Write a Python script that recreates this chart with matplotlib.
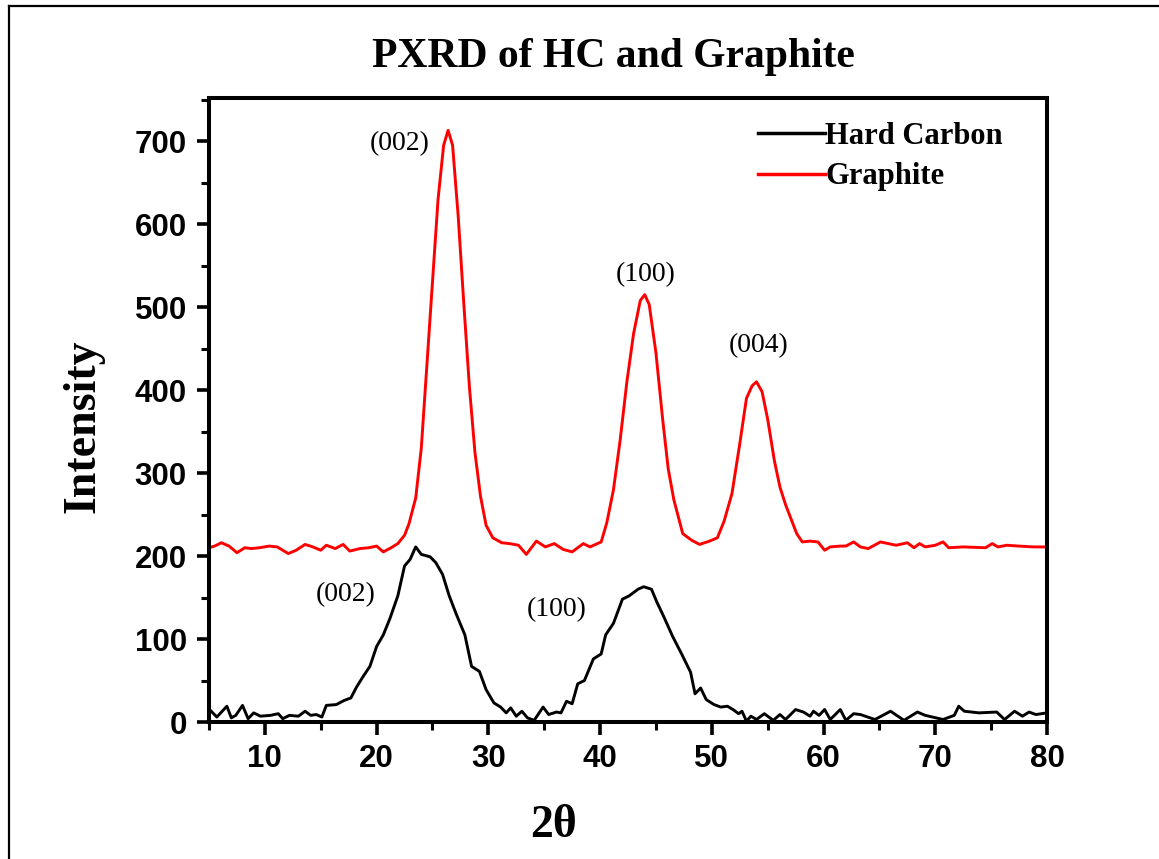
import matplotlib
matplotlib.use("Agg")
import matplotlib.pyplot as plt
from matplotlib.lines import Line2D
from matplotlib.ticker import MultipleLocator

# ---- data ----
hc_x = [5.2, 5.7, 6.6, 7.0, 7.4, 8.0, 8.5, 9.0, 9.6, 10.5, 11.2, 11.6, 12.2, 13.0, 13.6, 14.1, 14.6, 15.1, 15.5,
        16.4, 17.1, 17.7, 18.2, 18.8, 19.4, 20.0, 20.6, 21.2, 21.9, 22.5, 23.0, 23.5, 24.0, 24.8, 25.3, 25.9,
        26.5, 27.1, 27.9, 28.5, 29.2, 29.8, 30.5, 31.1, 31.6, 32.0, 32.5, 33.0, 33.5, 34.1, 34.9, 35.4, 36.1,
        36.5, 37.0, 37.5, 38.0, 38.6, 39.4, 40.1, 40.5, 41.2, 42.0, 42.6, 43.4, 43.9, 44.6, 45.1, 45.7, 46.5,
        47.3, 48.1, 48.5, 49.0, 49.5, 50.2, 50.8, 51.4, 51.9, 52.4, 52.7, 53.1, 53.5, 54.0, 54.7, 55.5, 56.1,
        56.6, 57.5, 58.2, 58.8, 59.1, 59.6, 60.1, 60.6, 61.5, 62.0, 62.7, 63.3, 64.6, 66.0, 67.2, 68.4, 69.1,
        70.7, 71.7, 72.1, 72.6, 73.9, 75.5, 76.2, 77.1, 77.8, 78.4, 79.0, 80.0]
hc_y = [13, 6, 19, 5, 8, 20, 4, 11, 7, 8, 10, 4, 8, 7, 13, 8, 9, 6, 20,
        21, 26, 29, 42, 55, 67, 91, 105, 125, 152, 188, 196, 211, 202, 199, 192, 178,
        152, 131, 105, 67, 61, 39, 23, 18, 11, 17, 7, 13, 5, 2, 18, 9, 12,
        11, 25, 22, 46, 50, 76, 82, 105, 119, 148, 152, 160, 163, 160, 144, 127, 103,
        82, 60, 34, 41, 27, 21, 18, 19, 15, 10, 13, 1, 7, 3, 10, 2, 9,
        3, 15, 12, 7, 13, 8, 15, 3, 15, 2, 10, 9, 3, 13, 2, 12, 8,
        3, 8, 19, 13, 11, 12, 3, 13, 7, 12, 9, 11]

gr_x = [5.0, 5.5, 6.1, 6.8, 7.5, 8.2, 8.8, 9.5, 10.4, 11.1, 12.1, 12.8, 13.6, 14.3, 15.0, 15.5, 16.3, 17.0,
        17.6, 18.5, 19.3, 20.0, 20.6, 21.3, 21.9, 22.5, 22.9, 23.5, 24.0, 24.5, 25.0, 25.5, 26.0, 26.4, 26.8,
        27.3, 27.8, 28.3, 28.8, 29.3, 29.8, 30.4, 31.2, 31.9, 32.7, 33.4, 34.3, 35.1, 35.9, 36.7, 37.5, 38.5,
        39.1, 40.1, 40.6, 41.2, 41.8, 42.4, 43.0, 43.6, 44.0, 44.4, 45.0, 45.6, 46.1, 46.6, 47.4, 48.2, 48.9,
        49.8, 50.5, 51.1, 51.8, 52.5, 53.1, 53.6, 54.0, 54.5, 55.0, 55.6, 56.1, 56.6, 57.6, 58.1, 58.8, 59.5,
        60.1, 60.6, 61.5, 62.0, 62.7, 63.3, 64.0, 65.1, 66.5, 67.5, 68.1, 68.6, 69.1, 70.0, 70.7, 71.2, 72.5,
        74.5, 75.1, 75.6, 76.4, 77.5, 78.8, 80.0]
gr_y = [210, 212, 216, 212, 204, 210, 209, 210, 212, 211, 203, 207, 214, 211, 207, 213, 209, 214,
        206, 209, 210, 212, 205, 210, 215, 225, 239, 270, 330, 430, 530, 630, 695, 713, 695,
        610, 505, 405, 325, 272, 237, 222, 216, 215, 213, 202, 218, 211, 215, 208, 205, 215,
        211, 217, 240, 280, 340, 410, 468, 508, 515, 503, 445, 365, 305, 268, 227, 219, 214,
        218, 222, 242, 275, 335, 390, 405, 410, 398, 365, 315, 283, 262, 227, 217, 218, 217,
        207, 211, 212, 212, 217, 211, 209, 217, 213, 216, 210, 215, 211, 213, 217, 210, 211,
        210, 215, 211, 213, 212, 211, 211]

series_labels = ["Hard Carbon", "Graphite"]
peak_labels = ["(002)", "(100)", "(004)", "(002)", "(100)"]
peak_x = [22.1, 44.1, 54.2, 17.2, 36.1]
peak_y = [697, 539, 453, 153, 136]

x_ticks = [10, 20, 30, 40, 50, 60, 70, 80]
y_ticks = [0, 100, 200, 300, 400, 500, 600, 700]

SERIF = ["Liberation Serif", "DejaVu Serif"]
SANS = ["Liberation Sans", "DejaVu Sans"]

W, H = 1159, 859
fig = plt.figure(figsize=(W / 100, H / 100), dpi=100)
fig.patch.set_facecolor("white")
ax = fig.add_axes([209 / W, 1 - 722 / H, (1047 - 209) / W, (722 - 98) / H])

ax.plot(hc_x, hc_y, color="black", lw=2.1, label=series_labels[0])
ax.plot(gr_x, gr_y, color="#ff0000", lw=2.1, label=series_labels[1])

ax.set_xlim(5, 80)
ax.set_ylim(0, 752)
ax.set_xticks(x_ticks)
ax.set_yticks(y_ticks)
ax.xaxis.set_minor_locator(MultipleLocator(5))
ax.yaxis.set_minor_locator(MultipleLocator(50))

for s in ax.spines.values():
    s.set_linewidth(2.9)
ax.tick_params(axis="both", which="major", direction="out", length=9, width=2.6, pad=7,
               labelsize=22.5)
ax.tick_params(axis="both", which="minor", direction="out", length=5.5, width=2.2)
ax.tick_params(top=False, right=False)
for lab in ax.get_xticklabels() + ax.get_yticklabels():
    lab.set_family(SANS)
    lab.set_fontweight("bold")

for t, xx, yy in zip(peak_labels, peak_x, peak_y):
    ax.text(xx, yy, t, ha="center", va="center", fontsize=20, family=SERIF)

leg = ax.legend(loc="upper left", bbox_to_anchor=(0.655, 0.962), frameon=False,
                handlelength=2.2, handletextpad=0.0, labelspacing=0.38,
                borderpad=0, borderaxespad=0,
                prop={"family": SERIF, "weight": "bold", "size": 22})
for ln in leg.get_lines():
    ln.set_linewidth(2.5)

fig.text(613 / W, 1 - 57 / H, "PXRD of HC and Graphite", ha="center", va="center",
         fontsize=30, fontweight="bold", family=SERIF)
fig.text(83 / W, 1 - 426 / H, "Intensity", ha="center", va="center", rotation=90,
         fontsize=33, fontweight="bold", family=SERIF)
fig.text(553 / W, 1 - 826 / H, "2θ", ha="center", va="center",
         fontsize=33, fontweight="bold", family=SERIF)

# outer frame (top and left edges visible in the reference)
fig.add_artist(Line2D([9 / W, 9 / W], [0, 1 - 6 / H], transform=fig.transFigure,
                      color="black", lw=1.6))
fig.add_artist(Line2D([9 / W, 1], [1 - 6 / H, 1 - 6 / H], transform=fig.transFigure,
                      color="black", lw=1.6))

fig.savefig("out.png", dpi=100, facecolor="white")
